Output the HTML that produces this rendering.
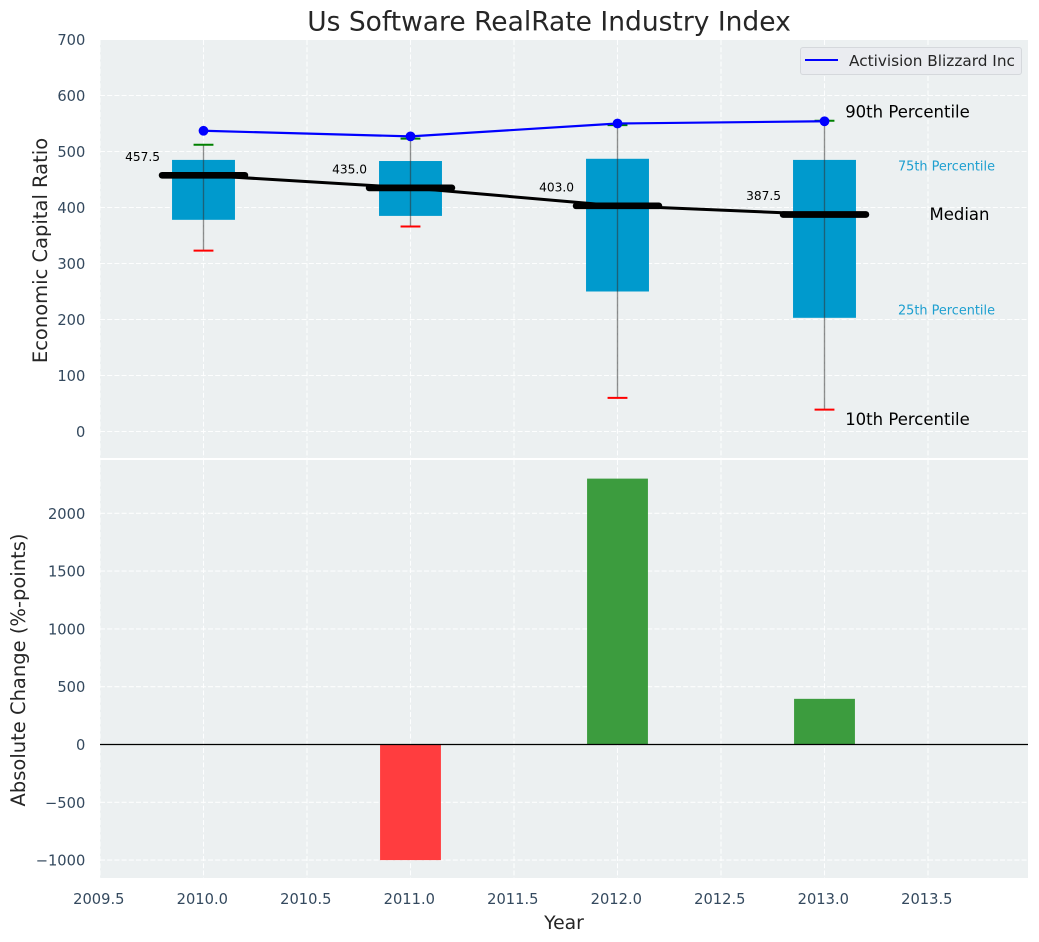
<!DOCTYPE html>
<html>
<head>
<meta charset="utf-8">
<title>Us Software RealRate Industry Index</title>
<style>
html,body{margin:0;padding:0;background:#fff;width:1039px;height:942px;overflow:hidden}
svg{display:block}
text{font-family:"DejaVu Sans","Liberation Sans",sans-serif}
</style>
</head>
<body>
<svg id="chart" xmlns="http://www.w3.org/2000/svg" width="1039" height="942" viewBox="0 0 1039 942"></svg>
<script>
const years = [2010, 2011, 2012, 2013];
const company = [537, 527, 550, 554];
const p90 = [512, 523, 547, 555];
const p75 = [485, 483, 487, 485];
const medians = [457.5, 435.0, 403.0, 387.5];
const p25 = [378, 385, 250, 203];
const p10 = [323, 366, 60, 39];
const changes = [null, -1000, 2300, 395];
const xTicks = [2009.5, 2010.0, 2010.5, 2011.0, 2011.5, 2012.0, 2012.5, 2013.0, 2013.5];
const xTickLabels = ['2009.5', '2010.0', '2010.5', '2011.0', '2011.5', '2012.0', '2012.5', '2013.0', '2013.5'];
const topTicks = [0, 100, 200, 300, 400, 500, 600, 700];
const bottomTicks = [-1000, -500, 0, 500, 1000, 1500, 2000];

const svg = document.getElementById('chart');
const NS = 'http://www.w3.org/2000/svg';
const X = v => 100 + (v - 2009.5) * 207.0;
const YT = v => 431.5 - v * 0.56;
const YB = v => 744.5 - v * 0.1156;
const fmtTick = v => String(v).replace('-', '\u2212');

function mk(tag, attrs, text) {
  const el = document.createElementNS(NS, tag);
  for (const k in attrs) el.setAttribute(k, attrs[k]);
  if (text !== undefined) el.textContent = text;
  svg.appendChild(el);
  return el;
}
let el;

el = mk('rect', {x: 100, y: 40, width: 928, height: 418, fill: '#ecf0f1'});


el = mk('rect', {x: 100, y: 460, width: 928, height: 418, fill: '#ecf0f1'});



const gridStyle = {stroke: '#fff', 'stroke-width': 1.1, 'stroke-dasharray': '5 2.2', 'stroke-opacity': 0.9};
xTicks.forEach((t, i) => {
  let g = mk('line', Object.assign({x1: X(t), x2: X(t), y1: 40, y2: 458}, gridStyle));
  
  
  g = mk('line', Object.assign({x1: X(t), x2: X(t), y1: 460, y2: 878}, gridStyle));
  
  
  const lab = mk('text', {x: X(t) - 1.2, y: 904, 'text-anchor': 'middle', 'font-size': 14.67, fill: '#34495e'}, xTickLabels[i]);
  
  
});
topTicks.forEach(t => {
  const g = mk('line', Object.assign({x1: 100, x2: 1028, y1: YT(t), y2: YT(t)}, gridStyle));
  
  
  const lab = mk('text', {x: 85.3, y: YT(t) + 5.5, 'text-anchor': 'end', 'font-size': 14.67, fill: '#34495e'}, fmtTick(t));
  
  
});
bottomTicks.forEach(t => {
  const g = mk('line', Object.assign({x1: 100, x2: 1028, y1: YB(t), y2: YB(t)}, gridStyle));
  
  
  const lab = mk('text', {x: 85.3, y: YB(t) + 5.5, 'text-anchor': 'end', 'font-size': 14.67, fill: '#34495e'}, fmtTick(t));
  
  
});

years.forEach((yr, i) => {
  const box = mk('rect', {x: X(yr - 0.152), y: YT(p75[i]), width: X(yr + 0.152) - X(yr - 0.152), height: YT(p25[i]) - YT(p75[i]), fill: '#009acd'});
  
  
});
years.forEach((yr, i) => {
  const w = mk('line', {x1: X(yr), x2: X(yr), y1: YT(p90[i]), y2: YT(p10[i]), stroke: '#333', 'stroke-opacity': 0.55, 'stroke-width': 1.35});
  
  
  const hi = mk('line', {x1: X(yr - 0.048), x2: X(yr + 0.048), y1: YT(p90[i]), y2: YT(p90[i]), stroke: '#008000', 'stroke-width': 2});
  
  
  const lo = mk('line', {x1: X(yr - 0.048), x2: X(yr + 0.048), y1: YT(p10[i]), y2: YT(p10[i]), stroke: '#ff0000', 'stroke-width': 2});
  
  
});

el = mk('polyline', {points: years.map((yr, i) => X(yr) + ',' + YT(medians[i])).join(' '), fill: 'none', stroke: '#000', 'stroke-width': 3});


years.forEach((yr, i) => {
  const m = mk('line', {x1: X(yr - 0.2), x2: X(yr + 0.2), y1: YT(medians[i]), y2: YT(medians[i]), stroke: '#000', 'stroke-width': 6.7, 'stroke-linecap': 'round'});
  
  
  const t = mk('text', {x: X(yr - 0.21), y: YT(medians[i]) - 14.5, 'text-anchor': 'end', 'font-size': 12.2, fill: '#000'}, medians[i].toFixed(1));
  
  
});

el = mk('polyline', {points: years.map((yr, i) => X(yr) + ',' + YT(company[i])).join(' '), fill: 'none', stroke: '#0000ff', 'stroke-width': 2.2});


years.forEach((yr, i) => {
  const c = mk('circle', {cx: X(yr), cy: YT(company[i]), r: 4.9, fill: '#0000ff'});
  
  
});

const last = years.length - 1;
const lx = X(years[last] + 0.1);
el = mk('text', {x: lx, y: YT(p90[last]) - 3, 'font-size': 16.5, fill: '#000'}, '90th Percentile');


el = mk('text', {x: lx, y: YT(p10[last]) + 15.5, 'font-size': 16.5, fill: '#000'}, '10th Percentile');


el = mk('text', {x: 989.5, y: YT(medians[last]) + 5.5, 'text-anchor': 'end', 'font-size': 16.5, fill: '#000'}, 'Median');


el = mk('text', {x: 898, y: YT(p75[last]) + 10.5, 'font-size': 12.85, fill: '#1d9fd0'}, '75th Percentile');


el = mk('text', {x: 898, y: YT(p25[last]) - 3.5, 'font-size': 12.85, fill: '#1d9fd0'}, '25th Percentile');



years.forEach((yr, i) => {
  if (changes[i] === null) return;
  const v = changes[i];
  const b = mk('rect', {x: X(yr - 0.147), width: X(yr + 0.147) - X(yr - 0.147), y: Math.min(YB(v), YB(0)), height: Math.abs(YB(v) - YB(0)), fill: v >= 0 ? '#3c9c3e' : '#ff3d3f'});
  
  
});
el = mk('line', {x1: 100, x2: 1028, y1: YB(0), y2: YB(0), stroke: '#000', 'stroke-width': 1.2});



el = mk('rect', {x: 800.5, y: 47.5, width: 221, height: 27, rx: 2.5, fill: '#eaecf0', stroke: '#d5d8dc', 'stroke-width': 1});


el = mk('line', {x1: 805, x2: 838, y1: 60, y2: 60, stroke: '#0000ff', 'stroke-width': 2});


el = mk('text', {x: 849, y: 66, 'font-size': 15.3, fill: '#262626'}, 'Activision Blizzard Inc');



el = mk('text', {x: 549, y: 30.5, 'text-anchor': 'middle', 'font-size': 26.5, fill: '#262626'}, 'Us Software RealRate Industry Index');


el = mk('text', {x: 564, y: 929, 'text-anchor': 'middle', 'font-size': 18.8, fill: '#262626'}, 'Year');


el = mk('text', {transform: 'translate(47 250.5) rotate(-90)', 'text-anchor': 'middle', 'font-size': 19.5, fill: '#262626'}, 'Economic Capital Ratio');


el = mk('text', {transform: 'translate(25 670) rotate(-90)', 'text-anchor': 'middle', 'font-size': 19.5, fill: '#262626'}, 'Absolute Change (%-points)');


</script>
</body>
</html>
